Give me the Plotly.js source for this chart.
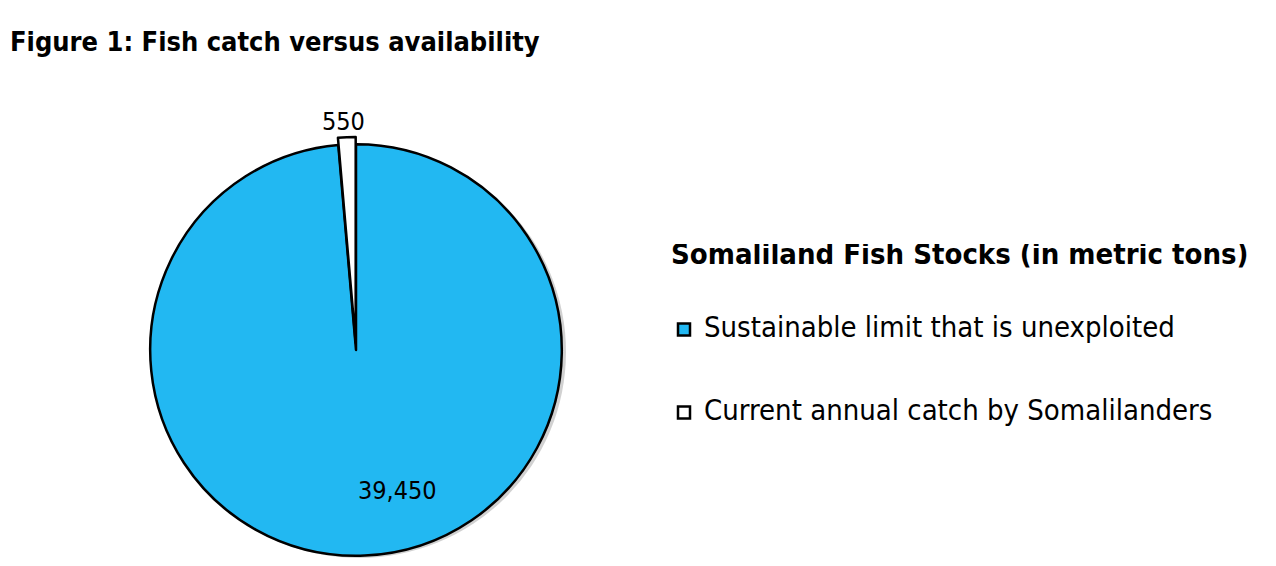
<!DOCTYPE html>
<html><head><meta charset="utf-8">
<script src="https://cdn.plot.ly/plotly-3.0.1.min.js"></script>
<style>html,body{margin:0;padding:0;background:#fff}</style>
</head><body>
<div id="chart" style="width:1276px;height:566px"></div>
<script>
const labels = ["Sustainable limit that is unexploited", "Current annual catch by Somalilanders"];
const values = [39450, 550];
const valueText = ["39,450", "550"];
const colors = ["#22B8F2", "#FFFFFF"];
const chartTitle = "Figure 1: Fish catch versus availability";
const legendTitle = "Somaliland Fish Stocks (in metric tons)";

const FONT = "DejaVu Sans Condensed, DejaVu Sans, sans-serif";

const trace = {
  type: "pie",
  labels: labels.map(l => " <br><span style='font-size:29px'>" + l + "</span><br> "),
  values: values,
  text: valueText,
  textinfo: "none",
  sort: false,
  direction: "clockwise",
  rotation: 0,
  pull: [0, 0.035],
  marker: {colors: colors, line: {color: "#000", width: 2.5}},
  domain: {x: [143/1276, 569/1276], y: [3/566, 429/566]},
  hoverinfo: "label+value"
};

const layout = {
  width: 1276, height: 566,
  margin: {l: 0, r: 0, t: 0, b: 0},
  paper_bgcolor: "#fff",
  title: {text: "<b>" + chartTitle + "</b>", x: 10/1276, xanchor: "left", y: 1 - 42/566, yanchor: "middle",
          font: {family: FONT, size: 27, color: "#000"}},
  showlegend: true,
  legend: {
    x: 669/1276, xanchor: "left", y: 1 - 244/566, yanchor: "top",
    valign: "middle",
    indentation: -5,
    font: {family: FONT, size: 20.5, color: "#000"},
    title: {text: "<span style='font-size:29px'><b>" + legendTitle + "</b></span><br> ", font: {family: FONT, size: 15, color: "#000"}},
    bgcolor: "rgba(0,0,0,0)"
  },
  shapes: [
    {type: "circle", xref: "paper", yref: "paper", layer: "below",
     x0: 152/1276, x1: 566/1276, y0: 1 - 558/566, y1: 1 - 146/566,
     fillcolor: "rgba(0,0,0,0.18)", line: {width: 0}}
  ],
  annotations: [
    {text: valueText[0], xref: "paper", yref: "paper", x: 397/1276, y: 1 - 491/566,
     xanchor: "center", yanchor: "middle", showarrow: false, font: {family: FONT, size: 25, color: "#000"}},
    {text: valueText[1], xref: "paper", yref: "paper", x: 343/1276, y: 1 - 122/566,
     xanchor: "center", yanchor: "middle", showarrow: false, font: {family: FONT, size: 25, color: "#000"}}
  ]
};

Plotly.newPlot("chart", [trace], layout, {displayModeBar: false, staticPlot: true});
</script>
</body></html>
